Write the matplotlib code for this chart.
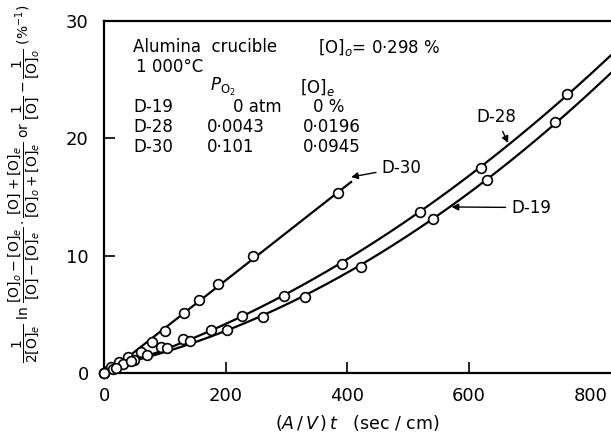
import numpy as np
import matplotlib
matplotlib.use("Agg")
import matplotlib.pyplot as plt

# ---------------- data ----------------
d30_x = [0, 12, 25, 40, 61, 79, 101, 131, 156, 188, 244, 385]
d30_y = [0, 0.5, 0.9, 1.4, 1.8, 2.6, 3.6, 5.1, 6.2, 7.6, 10.0, 15.3]
d30_line_end = 406

d28_x = [0, 15, 32, 50, 70, 130, 176, 227, 296, 391, 520, 619, 761]
d28_y = [0, 0.35, 0.75, 1.15, 1.5, 2.9, 3.7, 4.9, 6.6, 9.3, 13.7, 17.5, 23.8]

d19_x = [0, 20, 45, 93, 104, 142, 202, 261, 331, 422, 541, 629, 741]
d19_y = [0, 0.45, 1.0, 2.2, 2.1, 2.75, 3.7, 4.8, 6.5, 9.0, 13.1, 16.45, 21.4]

runs = ["D-19", "D-28", "D-30"]
p_o2 = ["0 atm", "0·0043", "0·101"]
o_e = ["0 %", "0·0196", "0·0945"]

x_ticks = [0, 200, 400, 600, 800]
y_ticks = [0, 10, 20, 30]

# ---------------- figure ----------------
W, H = 611, 441
fig = plt.figure(figsize=(W / 100, H / 100), dpi=100)
plt.rcParams['font.family'] = ['DejaVu Sans']
plt.rcParams['mathtext.fontset'] = 'dejavusans'

def P(px, py):
    return (px / W, 1 - py / H)

ax = fig.add_axes([104 / W, 1 - 373 / H, 1 - 104 / W, (373 - 21) / H])
ax.set_xlim(0, 833)
ax.set_ylim(0, 30)

lw = 1.6
mk = dict(marker='o', ms=7, mfc='white', mec='black', mew=1.2, ls='none',
          clip_on=False, zorder=3)

# D-30 straight line
c30 = np.polyfit(d30_x, d30_y, 1)
xs = np.linspace(0, d30_line_end, 50)
ax.plot(xs, np.polyval(c30, xs), color='black', lw=lw)
ax.plot(d30_x, d30_y, **mk)

# D-28 and D-19 curves
xs = np.linspace(0, 860, 200)
for xx, yy in ((d28_x, d28_y), (d19_x, d19_y)):
    c = np.polyfit(xx, yy, 2)
    ax.plot(xs, np.polyval(c, xs), color='black', lw=lw)
    ax.plot(xx, yy, **mk)

# spines
for s in ('left', 'top', 'bottom'):
    ax.spines[s].set_linewidth(1.6)
ax.spines['right'].set_visible(False)
ax.spines['left'].set_bounds(0.5, 30)
ax.spines['bottom'].set_bounds(12, 833)

ax.set_xticks(x_ticks)
ax.set_yticks(y_ticks)
ax.tick_params(direction='in', length=8, width=1.2, labelsize=13)
ax.tick_params(axis='x', pad=10)
ax.tick_params(axis='y', pad=11)
for t in (ax.xaxis.get_major_ticks()[0], ax.xaxis.get_major_ticks()[-1],
          ax.yaxis.get_major_ticks()[0], ax.yaxis.get_major_ticks()[-1]):
    t.tick1line.set_visible(False)

ax.set_xlabel(r'$(A\,/\,V\,)\,t$   (sec / cm)', fontsize=12.5, labelpad=6)

ylab = (r'$\dfrac{1}{2[\mathrm{O}]_e}\ \mathrm{ln}\ \dfrac{[\mathrm{O}]_o-[\mathrm{O}]_e}{[\mathrm{O}]-[\mathrm{O}]_e}'
        r'\cdot\dfrac{[\mathrm{O}]+[\mathrm{O}]_e}{[\mathrm{O}]_o+[\mathrm{O}]_e}$ or '
        r'$\dfrac{1}{[\mathrm{O}]}-\dfrac{1}{[\mathrm{O}]_o}$ $(\%^{-1})$')
fig.text(*P(24, 184), ylab, rotation=90, ha='center', va='center', fontsize=10)

# annotation arrows
ap = dict(arrowstyle='-|>', color='black', lw=1.0, mutation_scale=10,
          shrinkA=2, shrinkB=0)
ax.annotate('D-30', xy=(406, 16.7), xytext=(456, 17.5), fontsize=12,
            ha='left', va='center', arrowprops=ap)
ax.annotate('D-28', xy=(664, 19.6), xytext=(644, 21.8), fontsize=12,
            ha='center', va='center', arrowprops=ap)
ax.annotate('D-19', xy=(571, 14.15), xytext=(669, 14.1), fontsize=12,
            ha='left', va='center', arrowprops=ap)

# text block
fs = 12
fig.text(*P(133, 47), 'Alumina  crucible', fontsize=fs, va='center')
fig.text(*P(318, 47), r'$[\mathrm{O}]_o$= 0·298 %', fontsize=fs, va='center')
fig.text(*P(136, 67), '1 000°C', fontsize=fs, va='center')
fig.text(*P(210, 87), r'$P_{\mathrm{O}_2}$', fontsize=fs, va='center')
fig.text(*P(300, 87), r'$[\mathrm{O}]_e$', fontsize=fs, va='center')
row_y = [107, 127, 147]
p_x = [233, 207, 207]
e_x = [313, 303, 303]
for r, p, e, yy, px, ex in zip(runs, p_o2, o_e, row_y, p_x, e_x):
    fig.text(*P(133, yy), r, fontsize=fs, va='center')
    fig.text(*P(px, yy), p, fontsize=fs, va='center')
    fig.text(*P(ex, yy), e, fontsize=fs, va='center')

fig.savefig('out.png', dpi=100)
